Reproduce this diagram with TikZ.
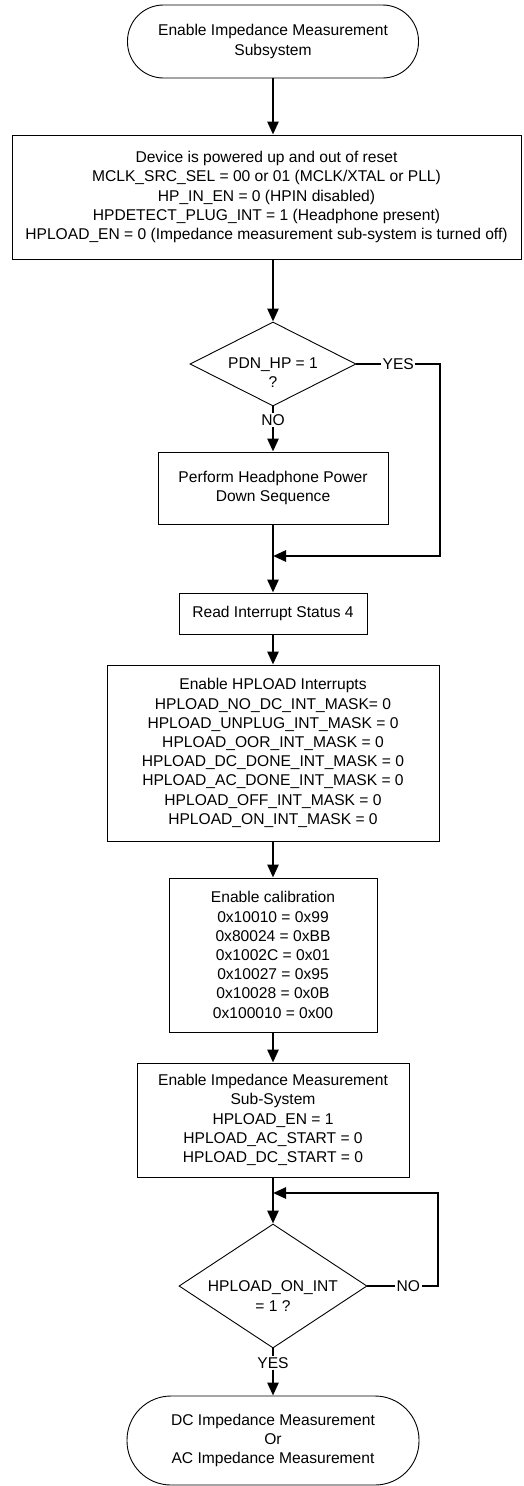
\documentclass[tikz,border=0pt]{standalone}
\usepackage{fontspec}
\setmainfont{Liberation Sans}
\usetikzlibrary{arrows.meta,shapes.geometric}
\begin{document}
\begin{tikzpicture}[x=1pt,y=-1pt,
  every node/.style={font=\fontsize{15.6}{19.2}\selectfont},
  box/.style={draw,line width=0.9pt,align=center,inner sep=0pt},
  term/.style={box},
  dec/.style={draw,diamond,line width=0.9pt,inner sep=0pt},
  txt/.style={align=center,inner sep=0pt},
  flow/.style={line width=2.6pt,-{Triangle[length=13pt,width=11pt]}},
  lbl/.style={fill=white,inner sep=1.5pt}]
\fill[white] (0,0) rectangle (524,1486);
\useasboundingbox (0,0) rectangle (524,1486);

\node[term,rounded corners=36pt,minimum width=291pt,minimum height=73pt] (t1) at (273,41.5)
  {Enable Impedance Measurement\\Subsystem};
\node[box,minimum width=509pt,minimum height=124pt] (b1) at (266.5,197)
  {Device is powered up and out of reset\\
   MCLK\_SRC\_SEL = 00 or 01 (MCLK/XTAL or PLL)\\
   HP\_IN\_EN = 0 (HPIN disabled)\\
   HPDETECT\_PLUG\_INT = 1 (Headphone present)\\
   HPLOAD\_EN = 0 (Impedance measurement sub-system is turned off)};
\node[dec,minimum width=166pt,minimum height=84pt] (d1) at (273,364) {};
\node[txt] (d1t) at (273,373) {PDN\_HP = 1\\?};
\node[box,minimum width=230pt,minimum height=72pt] (b2) at (273,488)
  {Perform Headphone Power\\Down Sequence};
\node[box,minimum width=188pt,minimum height=41pt] (b3) at (273,613.5)
  {Read Interrupt Status 4};
\node[box,minimum width=332pt,minimum height=176pt] (b4) at (273,753)
  {Enable HPLOAD Interrupts\\
   HPLOAD\_NO\_DC\_INT\_MASK= 0\\
   HPLOAD\_UNPLUG\_INT\_MASK = 0\\
   HPLOAD\_OOR\_INT\_MASK = 0\\
   HPLOAD\_DC\_DONE\_INT\_MASK = 0\\
   HPLOAD\_AC\_DONE\_INT\_MASK = 0\\
   HPLOAD\_OFF\_INT\_MASK = 0\\
   HPLOAD\_ON\_INT\_MASK = 0};
\node[box,minimum width=208pt,minimum height=154pt] (b5) at (273,955)
  {Enable calibration\\
   0x10010 = 0x99\\
   0x80024 = 0xBB\\
   0x1002C = 0x01\\
   0x10027 = 0x95\\
   0x10028 = 0x0B\\
   0x100010 = 0x00};
\node[box,minimum width=272pt,minimum height=114pt] (b6) at (273,1120)
  {Enable Impedance Measurement\\
   Sub-System\\
   HPLOAD\_EN = 1\\
   HPLOAD\_AC\_START = 0\\
   HPLOAD\_DC\_START = 0};
\node[dec,minimum width=188pt,minimum height=124pt] (d2) at (273,1286) {};
\node[txt] (d2t) at (273,1296) {HPLOAD\_ON\_INT\\= 1 ?};
\node[term,rounded corners=44pt,minimum width=292pt,minimum height=89pt] (t2) at (273,1440.5)
  {DC Impedance Measurement\\Or\\AC Impedance Measurement};

\coordinate (c1) at (440,364);
\coordinate (c2) at (440,556);
\coordinate (j1) at (273,556);
\coordinate (c3) at (438,1286);
\coordinate (c4) at (438,1193);
\coordinate (j2) at (273,1193);

\draw[flow] (t1.south) -- (t1.south |- b1.north);
\draw[flow] (b1.south -| d1.north) -- (d1.north);
\draw[flow] (d1.south) -- node[lbl,pos=0.3]{NO} (b2.north);
\draw[flow] (d1.east) -- node[lbl,pos=0.5]{YES} (c1) -- (c2) -- (j1);
\draw[flow] (b2.south) -- (b3.north);
\draw[flow] (b3.south) -- (b4.north);
\draw[flow] (b4.south) -- (b5.north);
\draw[flow] (b5.south) -- (b6.north);
\draw[flow] (b6.south) -- (d2.north);
\draw[flow] (d2.east) -- node[lbl,pos=0.58]{NO} (c3) -- (c4) -- (j2);
\draw[flow] (d2.south) -- node[lbl,pos=0.31]{YES} (t2.north);
\end{tikzpicture}
\end{document}
